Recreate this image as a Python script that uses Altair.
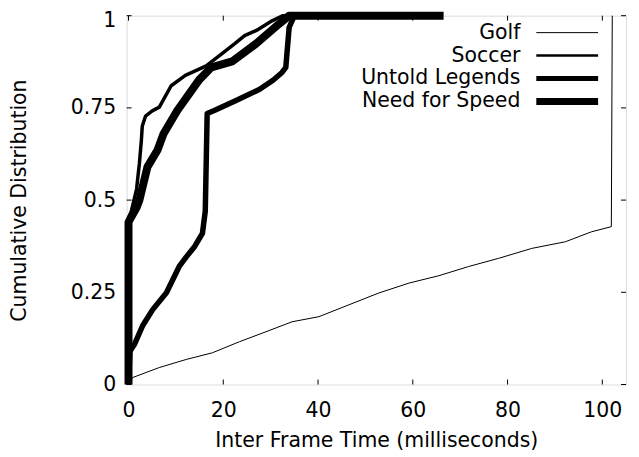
import altair as alt
import pandas as pd

# ---- data ----
series_names = ["Golf", "Soccer", "Untold Legends", "Need for Speed"]

golf_x = [0, 0.9, 6.5, 12.2, 17.7, 23.4, 29, 34.5, 40.2, 46.5, 52.8, 59.2, 65.5,
          71.8, 78.1, 85.1, 92.2, 97.7, 101.9, 102.1]
golf_y = [0, 0.019, 0.046, 0.068, 0.086, 0.116, 0.143, 0.17, 0.184, 0.216, 0.248,
          0.275, 0.295, 0.32, 0.342, 0.369, 0.387, 0.414, 0.428, 1.0]

soccer_x = [0, 0, 0.6, 1.7, 2.3, 2.7, 2.9, 3.6, 5, 6.5, 9, 12, 16.4, 20, 22.5,
            24.5, 27, 30.3, 32.5, 45]
soccer_y = [0, 0.45, 0.47, 0.53, 0.6, 0.66, 0.7, 0.728, 0.742, 0.752, 0.81, 0.838,
            0.864, 0.9, 0.925, 0.946, 0.96, 0.986, 1.0, 1.0]

untold_x = [0, 0.3, 1.3, 3, 5.1, 8, 10.7, 12.2, 14, 15.6, 16.2, 16.6, 18.1, 22.7,
            27.6, 30.5, 32.4, 33.2, 33.9, 35, 45]
untold_y = [0, 0.09, 0.11, 0.16, 0.203, 0.249, 0.32, 0.346, 0.375, 0.41, 0.47,
            0.735, 0.743, 0.77, 0.80, 0.825, 0.846, 0.86, 0.968, 1.0, 1.0]

nfs_x = [0, 0, 0.4, 1.7, 2.3, 4.0, 6.1, 7.4, 10.3, 14.9, 17.5, 21.9, 26.9, 31.8,
         33.9, 66.5]
nfs_y = [0, 0.44, 0.45, 0.48, 0.5, 0.59, 0.635, 0.68, 0.743, 0.826, 0.86, 0.876,
         0.924, 0.978, 1.0, 1.0]

x_ticks = [0, 20, 40, 60, 80, 100]
y_ticks = [0, 0.25, 0.5, 0.75, 1]

# ---- styling ----
W, H = 501, 370
FONT = "DejaVu Sans"
FS = 20.5
TICK = 5
curve_widths = [1, 3.5, 5.5, 8]
legend_widths = [1, 2.5, 5, 7]

xs = alt.Scale(domain=[-0.4, 105], nice=False, zero=False)
ys = alt.Scale(domain=[0, 1], nice=False, zero=False)

xaxis = alt.Axis(values=x_ticks, grid=False, domain=False, ticks=False,
                 labelFont=FONT, labelFontSize=FS, labelColor="black",
                 labelPadding=16, labelFlush=False,
                 title="Inter Frame Time (milliseconds)", titleFont=FONT,
                 titleFontSize=FS, titleFontWeight="normal", titleColor="black",
                 titlePadding=10)
yaxis = alt.Axis(values=y_ticks, grid=False, domain=False, ticks=False,
                 format=".2~f",
                 labelFont=FONT, labelFontSize=FS, labelColor="black",
                 labelPadding=11, labelFlush=False,
                 labelOffset={"condition": {"test": "datum.value === 1", "value": 5},
                              "value": 0},
                 title="Cumulative Distribution", titleFont=FONT,
                 titleFontSize=FS, titleFontWeight="normal", titleColor="black",
                 titlePadding=41)

X = alt.X("x:Q", scale=xs, axis=xaxis)
Y = alt.Y("y:Q", scale=ys, axis=yaxis)

layers = []
all_xy = [(golf_x, golf_y), (soccer_x, soccer_y), (untold_x, untold_y), (nfs_x, nfs_y)]
for (xv, yv), name, w in zip(all_xy, series_names, curve_widths):
    df = pd.DataFrame({"x": xv, "y": yv, "i": list(range(len(xv))), "s": name})
    layers.append(
        alt.Chart(df).mark_line(color="black", strokeWidth=w, strokeJoin="round",
                                strokeCap="butt")
        .encode(x=X, y=Y, order="i:Q")
    )

# mirrored inward ticks
xt = pd.DataFrame({"x": x_ticks})
yt = pd.DataFrame({"y": y_ticks})
tick_style = dict(color="black", strokeWidth=1)
layers.append(alt.Chart(xt).mark_rule(**tick_style).encode(x=X, y=alt.value(H), y2=alt.value(H - TICK)))
layers.append(alt.Chart(xt).mark_rule(**tick_style).encode(x=X, y=alt.value(0), y2=alt.value(TICK)))
layers.append(alt.Chart(yt).mark_rule(**tick_style).encode(y=Y, x=alt.value(0), x2=alt.value(TICK)))
layers.append(alt.Chart(yt).mark_rule(**tick_style).encode(y=Y, x=alt.value(W), x2=alt.value(W - TICK)))

# legend (top right, labels right-aligned, samples to the right)
leg_df = pd.DataFrame({"name": series_names})
for k, (name, w) in enumerate(zip(series_names, legend_widths)):
    yy = 17 + 23 * k
    d = leg_df[leg_df["name"] == name]
    layers.append(
        alt.Chart(d).mark_text(align="right", baseline="middle", font=FONT,
                               fontSize=FS, color="black")
        .encode(text="name:N", x=alt.value(395), y=alt.value(yy))
    )
    layers.append(
        alt.Chart(d).mark_rule(color="black", strokeWidth=w, strokeCap="butt")
        .encode(x=alt.value(411), x2=alt.value(473), y=alt.value(yy))
    )

chart = alt.layer(*layers).properties(
    width=W, height=H,
    autosize=alt.AutoSizeParams(type="none"),
    padding={"left": 119, "top": 7, "right": 5, "bottom": 70},
).configure_view(stroke="black", strokeWidth=1).configure(background="white")

chart.save("out.html", embed_options={"renderer": "svg", "actions": False})
